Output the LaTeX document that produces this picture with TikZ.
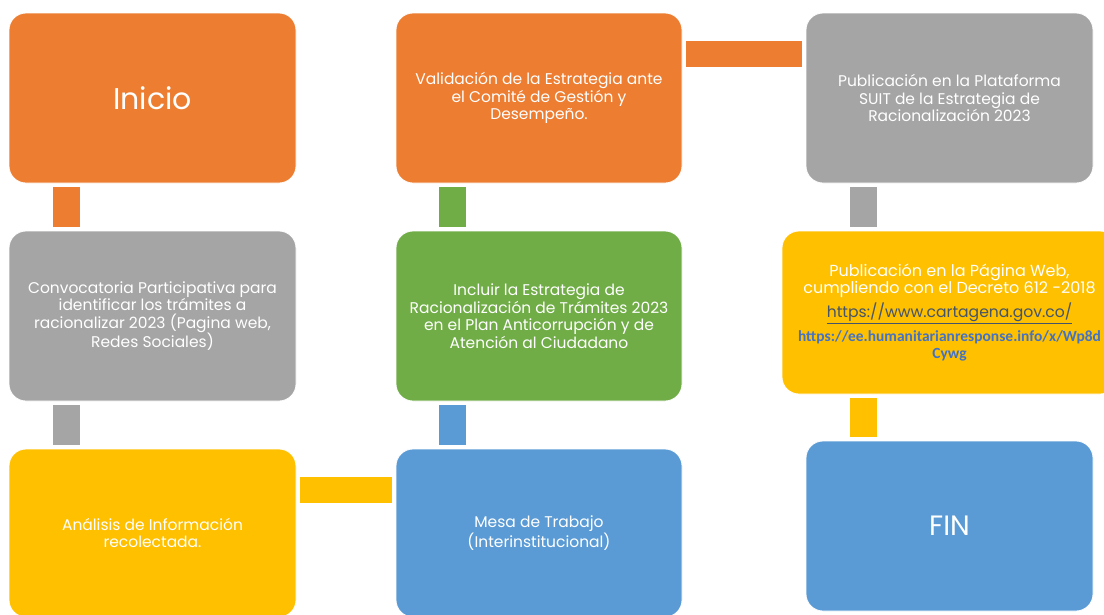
\documentclass[tikz,border=0pt]{standalone}
\usepackage{fontspec}
\setmainfont{Poppins}
\newfontfamily\calfont{Carlito}
\usetikzlibrary{calc}
\definecolor{cOrange}{HTML}{ED7D31}
\definecolor{cGray}{HTML}{A5A5A5}
\definecolor{cGreen}{HTML}{70AD47}
\definecolor{cYellow}{HTML}{FFC000}
\definecolor{cBlue}{HTML}{5B9BD5}
\definecolor{cLink}{HTML}{44546A}
\definecolor{cLinkB}{HTML}{4472C4}
\begin{document}
\begin{tikzpicture}[x=1pt,y=-1pt,
  box/.style={rectangle, rounded corners=17pt, draw=white, line width=0.8pt,
    minimum width=287pt, minimum height=170pt, inner sep=0pt, text=white,
    align=center, font=\fontsize{15.5}{17.5}\selectfont},
  conn/.style={line width=27pt, line cap=butt, shorten <=4pt, shorten >=4pt}]
\useasboundingbox (0,0) rectangle (1104,614);
\fill[white] (0,0) rectangle (1104,614);
% boxes
\node[box, fill=cOrange, font=\fontsize{30}{34}\selectfont] (inicio) at (152.5,98) {Inicio};
\node[box, fill=cOrange, minimum width=286pt] (val) at (539,98) {Validación de la Estrategia ante\\el Comité de Gestión y\\Desempeño.};
\node[box, fill=cGray] (suit) at (949.5,98) {Publicación en la Plataforma\\SUIT de la Estrategia de\\Racionalización 2023};
\node[box, fill=cGray] (conv) at (152.5,316) {Convocatoria Participativa para\\identificar los trámites a\\racionalizar 2023 (Pagina web,\\Redes Sociales)};
\node[box, fill=cGreen, minimum width=286pt] (incl) at (539,316) {Incluir la Estrategia de\\Racionalización de Trámites 2023\\en el Plan Anticorrupción y de\\Atención al Ciudadano};
\node[box, fill=cYellow, minimum width=335pt, minimum height=163pt] (web) at (949.5,312.5) {};
\node[box, fill=cYellow, minimum height=168pt] (ana) at (152.5,533) {Análisis de Información\\recolectada.};
\node[box, fill=cBlue, minimum width=286pt, minimum height=168pt] (mesa) at (539,533) {Mesa de Trabajo\\(Interinstitucional)};
\node[box, fill=cBlue, font=\fontsize{28}{32}\selectfont] (fin) at (949.5,526) {FIN};
% web box text
\node[text=white, align=center, font=\fontsize{16}{16}\selectfont, inner sep=0pt] (webt) at (949.5,281) {Publicación en la Página Web,\\cumpliendo con el Decreto 612 -2018};
\node[text=cLink, font=\fontsize{15.6}{17}\selectfont, inner sep=0pt] (webu) at (949.5,313) {\underline{https://www.cartagena.gov.co/}};
\node[text=cLinkB, font=\calfont\bfseries\fontsize{15.5}{17}\selectfont, inner sep=0pt] (webh) at (949.5,337) {https://ee.humanitarianresponse.info/x/Wp8d};
\node[text=cLinkB, font=\calfont\bfseries\fontsize{15.5}{17}\selectfont, inner sep=0pt] (webc) at (949.5,355) {Cywg};
% connectors
\draw[conn, cOrange] ($(inicio.south west)+(57.5,0)$) -- ($(conv.north west)+(57.5,0)$);
\draw[conn, cGray] ($(conv.south west)+(57.5,0)$) -- ($(ana.north west)+(57.5,0)$);
\draw[conn, cYellow, line width=26pt] ($(ana.north east)+(0,41)$) -- ($(mesa.north west)+(0,41)$);
\draw[conn, cBlue] ($(mesa.north west)+(56.5,0)$) -- ($(incl.south west)+(56.5,0)$);
\draw[conn, cGreen] ($(incl.north west)+(56.5,0)$) -- ($(val.south west)+(56.5,0)$);
\draw[conn, cOrange, line width=26pt] ($(val.north east)+(0,41)$) -- ($(suit.north west)+(0,41)$);
\draw[conn, cGray] ($(suit.south west)+(57.5,0)$) -- ($(web.north west)+(81.5,0)$);
\draw[conn, cYellow] ($(web.south west)+(81.5,0)$) -- ($(fin.north west)+(57.5,0)$);
\end{tikzpicture}
\end{document}
